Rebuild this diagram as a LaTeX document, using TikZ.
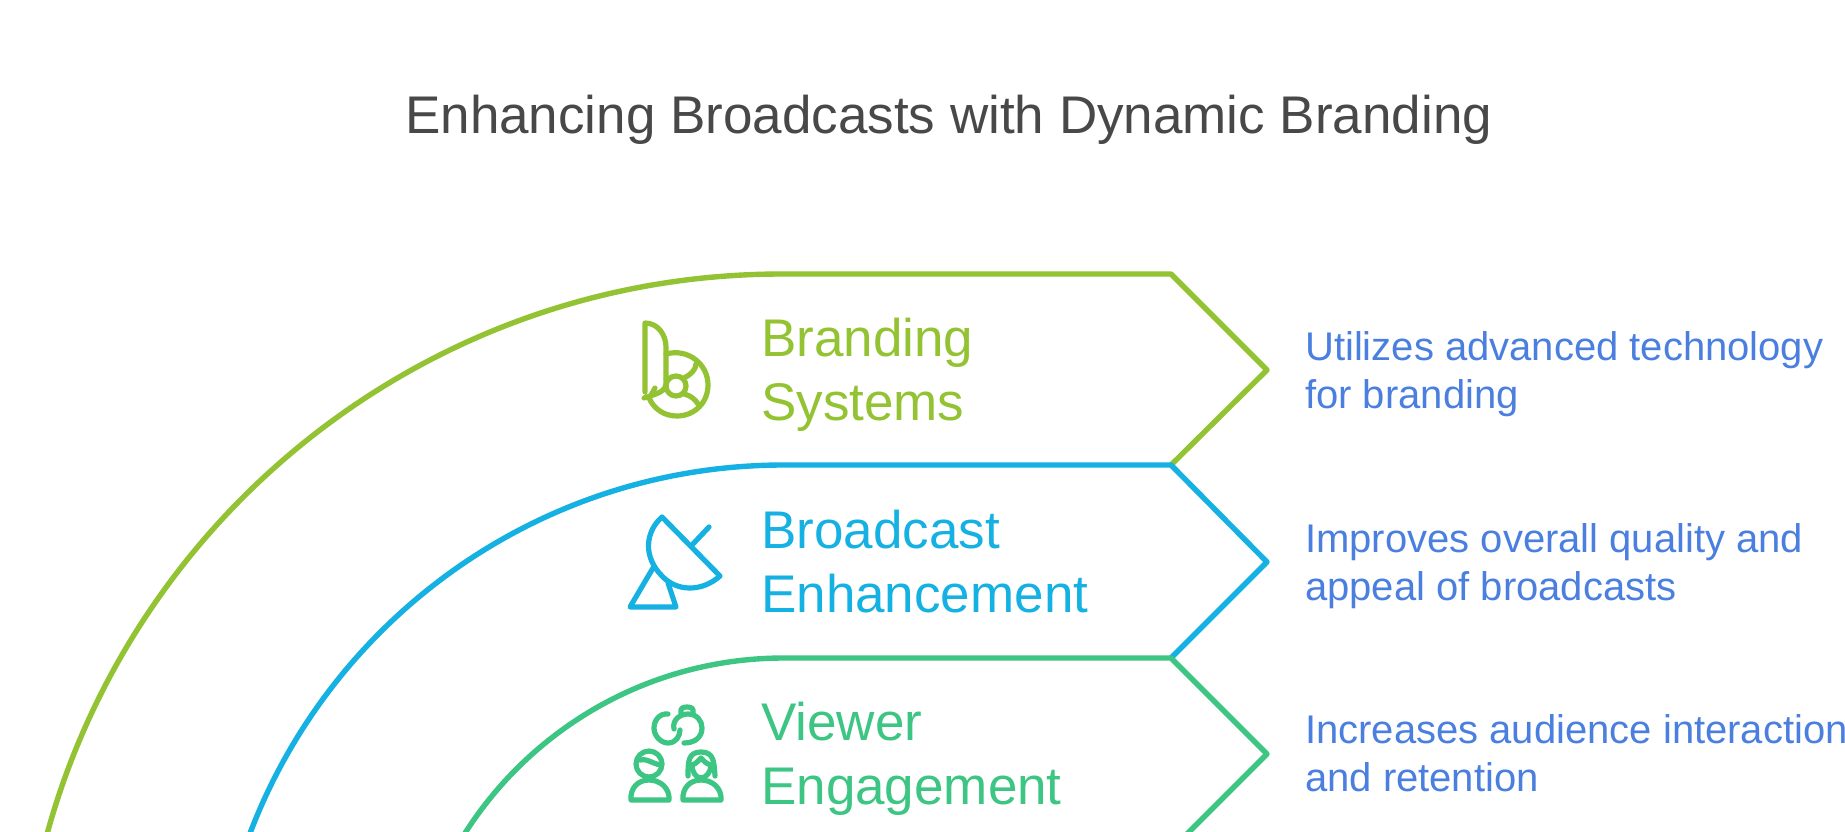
\documentclass[tikz,border=0pt]{standalone}
\usepackage{fontspec}
\setmainfont{Liberation Sans}
\definecolor{cA}{HTML}{93C332}
\definecolor{cB}{HTML}{16B1E3}
\definecolor{cC}{HTML}{3CC583}
\definecolor{cT}{HTML}{4A7FE0}
\definecolor{cH}{HTML}{484848}
\tikzset{
  band/.style={line width=5.4pt,line join=round},
  ico/.style={line width=5.2pt,line cap=round,line join=round},
  headtxt/.style={anchor=base west,font=\fontsize{53}{60}\selectfont,inner sep=0pt},
  desctxt/.style={anchor=base west,font=\fontsize{40}{45}\selectfont,text=cT,inner sep=0pt},
}
\begin{document}
\begin{tikzpicture}[x=1pt,y=-1pt]
\useasboundingbox (0,0) rectangle (1845,832);
\fill[white] (0,0) rectangle (1845,832);
\begin{scope}
\clip (0,0) rectangle (1845,832);
\coordinate (a1) at (782,274); \coordinate (c1) at (1171,274); \coordinate (t1) at (1267,370);
\coordinate (a2) at (784,465); \coordinate (c2) at (1171,465); \coordinate (t2) at (1267,562);
\coordinate (a3) at (784,658); \coordinate (c3) at (1171,658); \coordinate (t3) at (1267,754);
\coordinate (c4) at (1171,850);
\draw[band,cA] (a1) arc[start angle=-90,delta angle=-90,x radius=762pt,y radius=-762pt] ;
\draw[band,cA] (a1) -- (c1) -- (t1) -- (c2);
\draw[band,cB] (a2) arc[start angle=-90,delta angle=-90,x radius=571pt,y radius=-571pt] ;
\draw[band,cB] (a2) -- (c2) -- (t2) -- (c3);
\draw[band,cC] (a3) arc[start angle=-90,delta angle=-90,x radius=378pt,y radius=-378pt] ;
\draw[band,cC] (a3) -- (c3) -- (t3) -- (c4);
\end{scope}
\node[anchor=base west,inner sep=0pt,text=cH,font=\fontsize{53}{60}\selectfont] (title) at (405,134) {Enhancing Broadcasts with Dynamic Branding};
\node[headtxt,text=cA] (h1a) at (761,356) {Branding};
\node[headtxt,text=cA] (h1b) at (761,420) {Systems};
\node[headtxt,text=cB] (h2a) at (761,548) {Broadcast};
\node[headtxt,text=cB] (h2b) at (761,612) {Enhancement};
\node[headtxt,text=cC] (h3a) at (761,740) {Viewer};
\node[headtxt,text=cC] (h3b) at (761,804) {Engagement};
\node[desctxt] (d1a) at (1305,360) {Utilizes advanced technology};
\node[desctxt] (d1b) at (1305,408) {for branding};
\node[desctxt] (d2a) at (1305,552) {Improves overall quality and};
\node[desctxt] (d2b) at (1305,600) {appeal of broadcasts};
\node[desctxt] (d3a) at (1305,743) {Increases audience interaction};
\node[desctxt] (d3b) at (1305,791) {and retention};
% icon 1
\begin{scope}[ico,cA]
\draw (645,392) -- (645,323) .. controls (658,323) and (666,335) .. (666,347) -- (666,383) .. controls (666,392) and (656,394) .. (644,398);
\draw (655,388) -- (650,397);
\draw (666,354) .. controls (688,348) and (708,364) .. (708,385) .. controls (708,403) and (694,416) .. (677,416) .. controls (664,416) and (654,409) .. (649,398);
\draw (676,386) circle[radius=10pt];
\draw (684,378) .. controls (690,375) and (696,370) .. (696,364);
\draw (684,394) .. controls (690,395) and (696,400) .. (698,404);
\draw (666,379) -- (669,378);
\end{scope}
% icon 2
\begin{scope}[ico,cB]
\draw (662,517) -- (720,576) .. controls (702,592) and (677,592) .. (662,576) .. controls (643,557) and (645,532) .. (662,517) -- cycle;
\draw (692,545) -- (709,527);
\draw (653,568) -- (630,607) -- (676,607) -- (668,583);
\end{scope}
% icon 3
\begin{scope}[ico,cC]
\draw (668,714) .. controls (660,713) and (654,720) .. (654,728) .. controls (654,736) and (661,743) .. (668,743) .. controls (676,743) and (680,736) .. (680,730);
\draw (674,729) .. controls (672,720) and (680,714) .. (688,714) .. controls (697,714) and (702,721) .. (702,728) .. controls (702,737) and (695,743) .. (684,743);
\draw (681,713) .. controls (680,708) and (683,707) .. (687,707) .. controls (691,707) and (694,708) .. (693,713);
\draw (649,764) circle[radius=13pt];
\draw (640,760) .. controls (645,758) and (652,763) .. (660,765);
\draw (631,800) .. controls (630,788) and (638,780) .. (649,780) .. controls (660,780) and (670,788) .. (669,800) -- cycle;
\draw (688,776) .. controls (688,762) and (688,752) .. (701,752) .. controls (714,752) and (714,762) .. (715,776);
\draw (692,765) .. controls (696,764) and (699,760) .. (701,758) .. controls (703,760) and (706,764) .. (711,765);
\draw (692,765) .. controls (692,772) and (696,778) .. (701,778) .. controls (706,778) and (711,772) .. (711,765);
\draw (683,800) .. controls (682,788) and (690,780) .. (701,780) .. controls (712,780) and (722,788) .. (721,800) -- cycle;
\end{scope}
\end{tikzpicture}
\end{document}
